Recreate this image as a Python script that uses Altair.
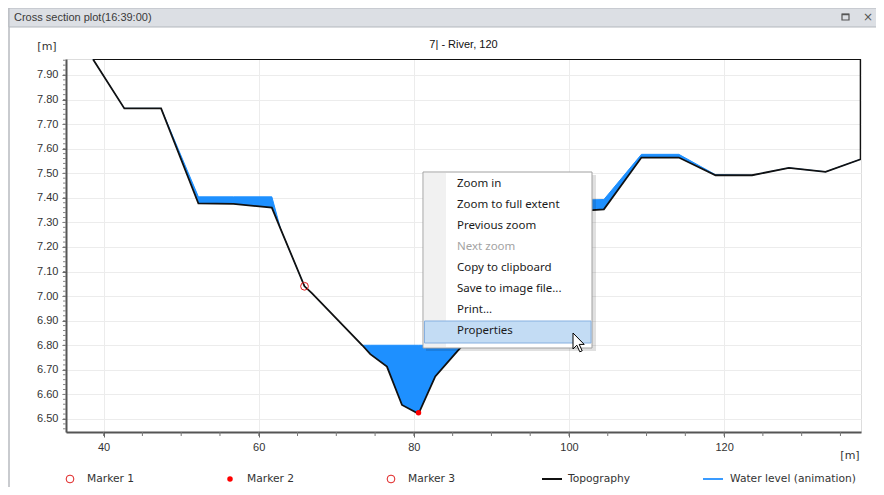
import altair as alt
import pandas as pd

# ---------------- data ----------------
# topography profile: chainage [m] and bed elevation [m]
topo_x = [38.63, 42.67, 47.41, 52.22, 56.74, 61.69, 62.80, 65.90, 66.85, 73.35,
          74.38, 76.53, 78.47, 80.60, 82.76, 85.56, 86.30, 90.00, 95.00, 100.50,
          104.50, 109.34, 114.16, 118.90, 123.60, 128.35, 133.08, 137.60]
topo_z = [7.964, 7.764, 7.764, 7.377, 7.375, 7.360, 7.275, 7.040, 7.012, 6.800,
          6.764, 6.713, 6.557, 6.521, 6.673, 6.774, 6.800, 7.020, 7.230, 7.345,
          7.353, 7.564, 7.564, 7.492, 7.492, 7.522, 7.506, 7.557]
# water level (animation) at the same chainages
water_z = [7.964, 7.764, 7.764, 7.404, 7.404, 7.404, 7.275, 7.040, 7.012, 6.800,
           6.800, 6.800, 6.800, 6.800, 6.800, 6.800, 6.800, 7.020, 7.230, 7.390,
           7.393, 7.577, 7.577, 7.494, 7.492, 7.522, 7.506, 7.557]
# closing outline of the section (top of the drawn section)
close_x = [137.60, 38.63]
close_z = [7.965, 7.965]

marker_names = ["Marker 1", "Marker 2"]
marker_x = [65.90, 80.60]
marker_z = [7.040, 6.525]

x_ticks = [40, 60, 80, 100, 120]
y_ticks = [6.5, 6.6, 6.7, 6.8, 6.9, 7.0, 7.1, 7.2, 7.3, 7.4, 7.5, 7.6, 7.7, 7.8, 7.9]
x_minor = [35 + 5 * i for i in range(1, 21)]
y_minor = [round(6.46 + 0.02 * i, 2) for i in range(0, 76)]

menu_items = ["Zoom in", "Zoom to full extent", "Previous zoom", "Next zoom",
              "Copy to clipboard", "Save to image file...", "Print...", "Properties"]
menu_enabled = [True, True, True, False, True, True, True, True]

legend_labels = ["Marker 1", "Marker 2", "Marker 3", "Topography", "Water level (animation)"]

window_title = "Cross section plot(16:39:00)"
chart_title = "7| - River, 120"

# ---------------- layout ----------------
W, H = 795, 373
xs = alt.Scale(domain=[35.15, 137.65], nice=False, zero=False)
ys = alt.Scale(domain=[6.447, 7.965], nice=False, zero=False)

one = pd.DataFrame({"a": [0]})

topo_df = pd.DataFrame({"x": topo_x + close_x, "z": topo_z + close_z,
                        "i": list(range(len(topo_x) + len(close_x)))})
water_df = pd.DataFrame({"x": topo_x, "topo": topo_z, "water": water_z})
mark_df = pd.DataFrame({"name": marker_names, "x": marker_x, "z": marker_z})

axis_x = alt.Axis(values=x_ticks, format="d", title=None, grid=True, gridColor="#ececec",
                  domainColor="#555555", domainWidth=2, tickColor="#666666", tickSize=5,
                  labelFont="Liberation Sans", labelFontSize=11, labelColor="#333333",
                  labelPadding=4)
axis_y = alt.Axis(values=y_ticks, format=".2f", title=None, grid=True, gridColor="#ececec",
                  domainColor="#555555", domainWidth=2, tickColor="#666666", tickSize=4,
                  labelFont="Liberation Sans", labelFontSize=11, labelColor="#333333",
                  labelPadding=4)

# window chrome
frame = alt.Chart(one).mark_rect(fill="transparent", stroke="#b8bbc0", strokeWidth=1.5).encode(
    x=alt.value(-57), x2=alt.value(811), y=alt.value(-51), y2=alt.value(445))
titlebar = alt.Chart(one).mark_rect(fill="#dcdfe4", stroke="#b3b7bd", strokeWidth=1).encode(
    x=alt.value(-57), x2=alt.value(811), y=alt.value(-51), y2=alt.value(-32))
wtitle = alt.Chart(one).mark_text(align="left", baseline="middle", font="Liberation Sans",
                                   fontSize=11, color="#3a3a3a").encode(
    x=alt.value(-52), y=alt.value(-41.5), text=alt.value(window_title))
maxicon = alt.Chart(one).mark_rect(fill="transparent", stroke="#555555", strokeWidth=1.2).encode(
    x=alt.value(776), x2=alt.value(783), y=alt.value(-45), y2=alt.value(-39))
maxbar = alt.Chart(one).mark_rule(color="#555555", strokeWidth=1.5).encode(
    x=alt.value(776), x2=alt.value(783), y=alt.value(-44.5))
closeicon = alt.Chart(one).mark_text(align="center", baseline="middle", font="DejaVu Sans",
                                     fontSize=12, color="#555555").encode(
    x=alt.value(802), y=alt.value(-42), text=alt.value("×"))

ctitle = alt.Chart(one).mark_text(align="center", baseline="middle", font="Liberation Sans",
                                   fontSize=11, color="#111111").encode(
    x=alt.value(W / 2), y=alt.value(-14), text=alt.value(chart_title))
ylab = alt.Chart(one).mark_text(align="center", baseline="middle", font="DejaVu Sans",
                                 fontSize=11, color="#333333").encode(
    x=alt.value(-19), y=alt.value(-12), text=alt.value("[m]"))
xlab = alt.Chart(one).mark_text(align="center", baseline="middle", font="DejaVu Sans",
                                 fontSize=11, color="#333333").encode(
    x=alt.value(784), y=alt.value(397), text=alt.value("[m]"))

# data layers
water = alt.Chart(water_df).mark_area(color="#1e90ff", opacity=1, line={"color": "#1e90ff", "strokeWidth": 1}).encode(
    x=alt.X("x:Q", scale=xs, axis=axis_x),
    y=alt.Y("water:Q", scale=ys, axis=axis_y),
    y2="topo:Q",
)
topo = alt.Chart(topo_df).mark_line(color="#111111", strokeWidth=1.8, clip=True).encode(
    x=alt.X("x:Q", scale=xs, axis=axis_x),
    y=alt.Y("z:Q", scale=ys, axis=axis_y),
    order="i:Q",
)
xminor = alt.Chart(pd.DataFrame({"t": x_minor})).mark_rule(color="#777777").encode(
    x=alt.X("t:Q", scale=xs, axis=axis_x), y=alt.value(H), y2=alt.value(H + 4))
yminor = alt.Chart(pd.DataFrame({"t": y_minor})).mark_rule(color="#888888").encode(
    y=alt.Y("t:Q", scale=ys, axis=axis_y), x=alt.value(-3), x2=alt.value(0))

m1 = alt.Chart(mark_df[mark_df.name == "Marker 1"]).mark_point(
    shape="circle", size=60, filled=False, color="#e02020", strokeWidth=1, opacity=1).encode(
    x=alt.X("x:Q", scale=xs, axis=axis_x), y=alt.Y("z:Q", scale=ys, axis=axis_y))
m2 = alt.Chart(mark_df[mark_df.name == "Marker 2"]).mark_point(
    shape="circle", size=30, filled=True, color="#ff0000", opacity=1).encode(
    x=alt.X("x:Q", scale=xs, axis=axis_x), y=alt.Y("z:Q", scale=ys, axis=axis_y))

# legend
leg_df = pd.DataFrame({"label": legend_labels,
                       "tx": [21, 181, 342, 502, 664]})
leg_text = alt.Chart(leg_df).mark_text(align="left", baseline="middle", font="DejaVu Sans",
                                       fontSize=10.7, color="#333333").encode(
    x=alt.X("tx:Q", scale=None), y=alt.value(420), text="label:N")
leg_m1 = alt.Chart(one).mark_point(shape="circle", size=60, filled=False, color="#e02020",
                                   strokeWidth=1, opacity=1).encode(x=alt.value(4), y=alt.value(420))
leg_m2 = alt.Chart(one).mark_point(shape="circle", size=30, filled=True, color="#ff0000",
                                   opacity=1).encode(x=alt.value(164), y=alt.value(420))
leg_m3 = alt.Chart(one).mark_point(shape="circle", size=60, filled=False, color="#e02020",
                                   strokeWidth=1, opacity=1).encode(x=alt.value(325), y=alt.value(420))
leg_l1 = alt.Chart(one).mark_rule(color="#111111", strokeWidth=2).encode(
    x=alt.value(476), x2=alt.value(496), y=alt.value(420))
leg_l2 = alt.Chart(one).mark_rule(color="#3a9bff", strokeWidth=2).encode(
    x=alt.value(637), x2=alt.value(657), y=alt.value(420))

# context menu
menu_df = pd.DataFrame({"label": menu_items,
                        "py": [125 + 21 * i for i in range(len(menu_items))],
                        "col": ["#1a1a1a" if e else "#a3a3a3" for e in menu_enabled]})
shadow = alt.Chart(one).mark_rect(fill="#000000", opacity=0.12).encode(
    x=alt.value(360), x2=alt.value(530), y=alt.value(116), y2=alt.value(292))
menu_box = alt.Chart(one).mark_rect(fill="#ffffff", stroke="#a0a0a0", strokeWidth=1).encode(
    x=alt.value(357), x2=alt.value(526), y=alt.value(113), y2=alt.value(289))
gutter = alt.Chart(one).mark_rect(fill="#f1f1f1").encode(
    x=alt.value(358), x2=alt.value(380), y=alt.value(114), y2=alt.value(288))
highlight = alt.Chart(one).mark_rect(fill="#c3dcf4", stroke="#86b0e0", strokeWidth=1).encode(
    x=alt.value(358.5), x2=alt.value(525), y=alt.value(262), y2=alt.value(284))
menu_text = alt.Chart(menu_df).mark_text(align="left", baseline="middle", font="Noto Sans",
                                         fontSize=11.5).encode(
    x=alt.value(391), y=alt.Y("py:Q", scale=None), text="label:N",
    color=alt.Color("col:N", scale=None))
cursor = alt.Chart(one).mark_point(
    shape="M0,0 L0,1.6 L0.38,1.22 L0.68,1.88 L0.92,1.78 L0.62,1.14 L1.12,1.14 Z",
    size=400, filled=True, fill="white", stroke="black", strokeWidth=1, opacity=1).encode(
    x=alt.value(507), y=alt.value(274))

chart = alt.layer(
    frame, titlebar, wtitle, maxicon, maxbar, closeicon, ctitle, ylab, xlab,
    water, topo, xminor, yminor, m1, m2,
    leg_text, leg_m1, leg_m2, leg_m3, leg_l1, leg_l2,
    shadow, menu_box, gutter, highlight, menu_text, cursor,
).properties(
    width=W, height=H,
    autosize=alt.AutoSizeParams(type="none"),
    padding={"left": 58, "top": 51, "right": 15, "bottom": 55},
).configure_view(strokeWidth=0).configure(background="white")

chart.save("out.html", embed_options={"renderer": "svg", "actions": False})
